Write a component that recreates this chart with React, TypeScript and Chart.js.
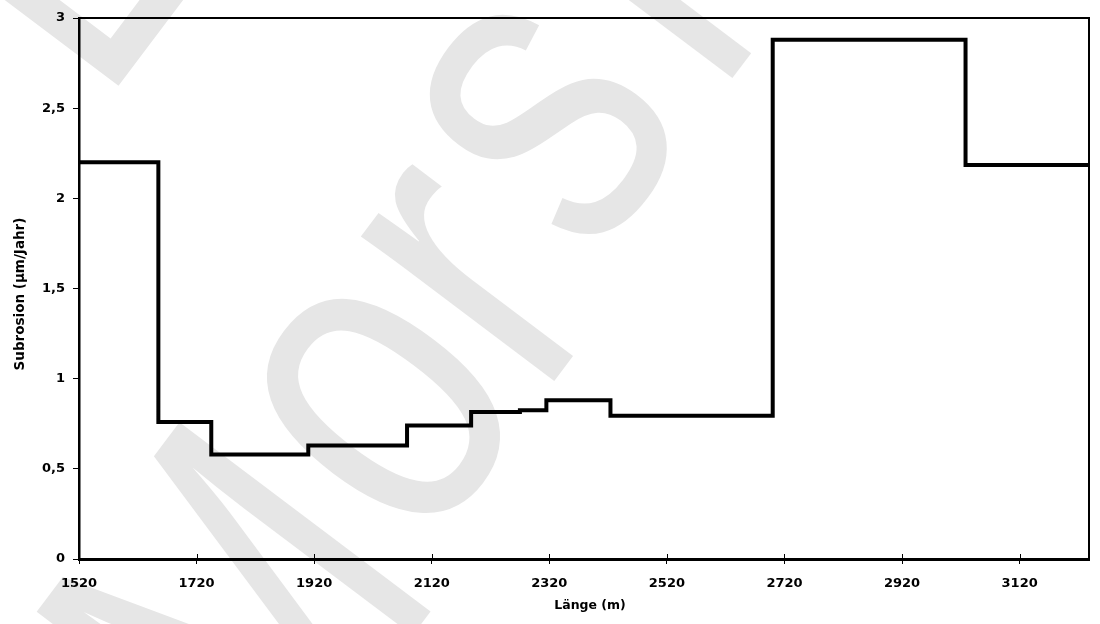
import React, { useEffect, useRef } from "react";
import { Chart, registerables } from "chart.js";

Chart.register(...registerables);

// ---- data ----
const stepStarts = [1520, 1655, 1745, 1910, 2078, 2187, 2270, 2315, 2424, 2700, 3028];
const stepValues = [2.2, 0.76, 0.58, 0.63, 0.74, 0.815, 0.825, 0.88, 0.795, 2.88, 2.185];
const xMin = 1520;
const xMax = 3238;
const xTickValues = [1520, 1720, 1920, 2120, 2320, 2520, 2720, 2920, 3120];
const yTickValues = [0, 0.5, 1, 1.5, 2, 2.5, 3];
const yTickLabels = ["0", "0,5", "1", "1,5", "2", "2,5", "3"];
const xTitle = "Länge (m)";
const yTitle = "Subrosion (µm/Jahr)";
const watermarkParts = ["M", "or", "s", "leben"];
const watermarkLetter = "L";

const FONT = '"DejaVu Sans", "Liberation Sans", Arial, sans-serif';

export default function App() {
  const ref = useRef<HTMLCanvasElement | null>(null);

  useEffect(() => {
    const canvas = ref.current;
    if (!canvas) return;

    const points = stepStarts.map((x, i) => ({ x, y: stepValues[i] }));
    points.push({ x: xMax, y: stepValues[stepValues.length - 1] });

    const watermark = {
      id: "watermark",
      beforeDraw(chart: any) {
        const ctx = chart.ctx;
        ctx.save();
        ctx.fillStyle = "#ffffff";
        ctx.fillRect(0, 0, chart.width, chart.height);
        ctx.fillStyle = "#e6e6e6";
        ctx.font = '457px "Liberation Sans", Arial, sans-serif';
        ctx.textBaseline = "alphabetic";
        // per-part offsets in the rotated text frame (unscaled x, y)
        const offs = [
          [-10, 40],
          [0, 0],
          [26, -40],
          [70, -40],
        ];
        ctx.save();
        ctx.translate(243, 794);
        ctx.rotate((-53 * Math.PI) / 180);
        ctx.scale(0.776, 1);
        let x = 0;
        watermarkParts.forEach((p, i) => {
          ctx.fillText(p, x + offs[i][0], offs[i][1]);
          x += ctx.measureText(p).width;
        });
        ctx.restore();
        ctx.save();
        ctx.translate(101, 109);
        ctx.rotate((-53 * Math.PI) / 180);
        ctx.scale(0.776, 1);
        ctx.fillText(watermarkLetter, 0, 0);
        ctx.restore();
        ctx.restore();
      },
    };

    const frame = {
      id: "frame",
      beforeDatasetsDraw(chart: any) {
        const { ctx, chartArea } = chart;
        const xs = chart.scales.x;
        ctx.save();
        ctx.strokeStyle = "#000";
        ctx.lineWidth = 2;
        ctx.beginPath();
        ctx.moveTo(chartArea.left, chartArea.top);
        ctx.lineTo(chartArea.right, chartArea.top);
        ctx.lineTo(chartArea.right, chartArea.bottom);
        ctx.stroke();
        ctx.lineWidth = 1;
        ctx.beginPath();
        xs.ticks.forEach((t: any) => {
          const px = Math.round(xs.getPixelForValue(t.value)) + 0.5;
          ctx.moveTo(px, chartArea.bottom - 5);
          ctx.lineTo(px, chartArea.bottom);
        });
        ctx.stroke();
        ctx.restore();
      },
      afterDraw(chart: any) {
        const ctx = chart.ctx;
        const { chartArea } = chart;
        ctx.save();
        ctx.fillStyle = "#000";
        ctx.textAlign = "center";
        ctx.textBaseline = "middle";
        ctx.font = `bold 12.5px ${FONT}`;
        ctx.fillText(xTitle, (chartArea.left + chartArea.right) / 2 + 6, 606);
        ctx.translate(20, 294);
        ctx.rotate(-Math.PI / 2);
        ctx.font = `bold 13.5px ${FONT}`;
        ctx.fillText(yTitle, 0, 0);
        ctx.restore();
      },
    };

    const chart = new Chart(canvas, {
      type: "line",
      data: {
        datasets: [
          {
            data: points,
            stepped: "before",
            borderColor: "#000",
            borderWidth: 4,
            pointRadius: 0,
            fill: false,
            borderJoinStyle: "miter",
          } as any,
        ],
      },
      options: {
        animation: false,
        responsive: false,
        devicePixelRatio: 1,
        layout: { padding: { left: 0, top: 18, right: 11, bottom: 0 } },
        plugins: {
          legend: { display: false },
          tooltip: { enabled: false },
        },
        scales: {
          x: {
            type: "linear",
            min: xMin,
            max: xMax,
            afterBuildTicks: (scale: any) => {
              scale.ticks = xTickValues.map((v) => ({ value: v }));
            },
            afterFit: (scale: any) => {
              scale.height = 65;
            },
            grid: {
              drawOnChartArea: false,
              tickLength: 5,
              color: "#000",
              tickColor: "#000",
              tickWidth: 1,
            },
            border: { display: true, color: "#000", width: 3 },
            ticks: {
              color: "#000",
              font: { family: FONT, size: 13, weight: "bold" },
              padding: 12,
              maxRotation: 0,
              autoSkip: false,
              callback: (v: any) => String(v),
            },
          },
          y: {
            type: "linear",
            min: 0,
            max: 3,
            afterBuildTicks: (scale: any) => {
              scale.ticks = yTickValues.map((v) => ({ value: v }));
            },
            afterFit: (scale: any) => {
              scale.width = 79;
            },
            grid: {
              drawOnChartArea: false,
              tickLength: 6,
              color: "#000",
              tickColor: "#000",
              tickWidth: 1,
            },
            border: { display: true, color: "#000", width: 2.5 },
            ticks: {
              color: "#000",
              font: { family: FONT, size: 13, weight: "bold" },
              padding: 8,
              autoSkip: false,
              callback: (v: any) => {
                const i = yTickValues.indexOf(Number(v));
                return i >= 0 ? yTickLabels[i] : "";
              },
            },
          },
        },
      },
      plugins: [watermark, frame],
    });

    return () => chart.destroy();
  }, []);

  return (
    <div style={{ position: "fixed", left: 0, top: 0, width: 1100, height: 624, background: "#fff" }}>
      <canvas ref={ref} width={1100} height={624} style={{ display: "block", width: 1100, height: 624 }} />
    </div>
  );
}
